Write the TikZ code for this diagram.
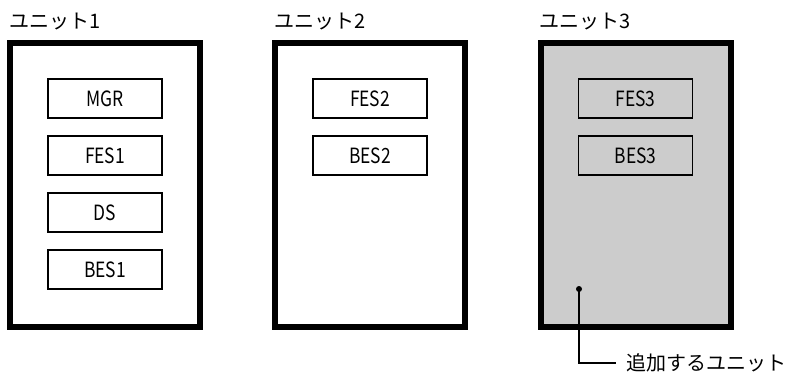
\documentclass[tikz,border=0pt]{standalone}
\usepackage{fontspec}
\setmainfont{Noto Sans CJK JP}
\newfontfamily\narrowjp[FakeStretch=0.83]{Noto Sans CJK JP}
\usetikzlibrary{positioning}
\tikzset{
  unitbox/.style={draw,line width=6pt,minimum width=190pt,minimum height=284pt,inner sep=0pt},
  procbox/.style={draw,line width=1.4pt,minimum width=114pt,minimum height=39pt,inner sep=0pt,
    font=\narrowjp\fontsize{21}{21}\selectfont},
  unittitle/.style={font=\fontsize{20}{20}\selectfont,inner sep=0pt,anchor=west}
}
\begin{document}
\begin{tikzpicture}[x=1pt,y=-1pt,node distance=16.6pt]
\useasboundingbox (0,0) rectangle (795,374);
% Units
\node[unitbox] (unit1) at (105,185) {};
\node[unitbox] (unit2) at (370,185) {};
\node[unitbox,fill=black!20] (unit3) at (635.5,185) {};
\foreach \u in {1,2,3}
  \node[unittitle] (title\u) at ([xshift=2pt,yshift=18pt]unit\u.north west) {ユニット\u};

% Unit 1 servers
\node[procbox] (mgr) at (105,98.5) {MGR};
\node[procbox,below=of mgr] (fes1) {FES1};
\node[procbox,below=of fes1] (ds) {DS};
\node[procbox,below=of ds] (bes1) {BES1};

% Unit 2 servers
\node[procbox] (fes2) at (unit2 |- mgr) {FES2};
\node[procbox,below=of fes2] (bes2) {BES2};

% Unit 3 servers
\node[procbox] (fes3) at (unit3 |- mgr) {FES3};
\node[procbox,below=of fes3] (bes3) {BES3};

% Added unit callout
\node[circle,fill,inner sep=0pt,minimum size=6pt] (dot) at (579,289) {};
\node[font=\fontsize{20}{20}\selectfont,anchor=west,inner xsep=10pt,inner ysep=0pt] (addlabel) at (616,363) {追加するユニット};
\draw[line width=1.4pt] (dot.center) |- (addlabel.west);
\end{tikzpicture}
\end{document}
